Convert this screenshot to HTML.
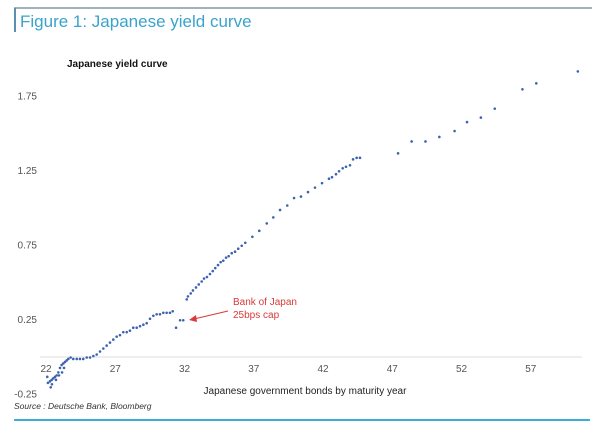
<!DOCTYPE html>
<html><head><meta charset="utf-8"><style>
body{margin:0;background:#fff;width:600px;height:430px;overflow:hidden;font-family:"Liberation Sans",sans-serif}
</style></head><body>
<svg width="600" height="430" xmlns="http://www.w3.org/2000/svg">
<line x1="14" y1="8" x2="592" y2="8" stroke="#9fb2bd" stroke-width="2"/>
<line x1="15" y1="8" x2="15" y2="32" stroke="#5a8fb0" stroke-width="2"/>
<text x="20" y="27" font-size="17" fill="#3aa3cc">Figure 1: Japanese yield curve</text>
<text x="67" y="67" font-size="10" font-weight="bold" fill="#111">Japanese yield curve</text>
<line x1="40" y1="357" x2="582" y2="357" stroke="#ddd" stroke-width="1"/>
<g id="yt" font-size="10" fill="#555"></g>
<g id="xt" font-size="10" fill="#555"></g>
<g id="pts" fill="#3d63b0"></g>
<text x="305" y="394" font-size="10" fill="#222" text-anchor="middle">Japanese government bonds by maturity year</text>
<text x="14" y="409" font-size="8.5" font-style="italic" fill="#333">Source : Deutsche Bank, Bloomberg</text>
<line x1="14" y1="420" x2="590" y2="420" stroke="#3aaed8" stroke-width="2"/>
<text x="233" y="305" font-size="10" fill="#d93a3a">Bank of Japan</text>
<text x="233" y="318" font-size="10" fill="#d93a3a">25bps cap</text>
<line x1="228" y1="311" x2="194" y2="319" stroke="#d93a3a" stroke-width="1"/>
<polygon points="189,320 196,315 197,322" fill="#d93a3a"/>
</svg>
<script>
const xTicks=[22,27,32,37,42,47,52,57];
const yTicks=[1.75,1.25,0.75,0.25,-0.25];
const yTickLabels=["1.75","1.25","0.75","0.25","-0.25"];
const years=[22.09,22.29,22.34,22.41,22.53,22.65,22.77,22.89,23.01,23.13,23.25,23.37,23.49,23.61,23.78,23.97,24.22,24.45,24.69,24.94,25.18,25.42,25.66,25.90,26.14,26.38,26.62,26.86,27.10,27.34,27.58,27.83,28.06,28.30,28.55,28.79,29.03,29.27,29.51,29.75,29.99,30.23,30.47,30.71,30.95,31.15,
22.14,22.43,22.72,22.94,23.16,23.30,
31.39,31.68,31.91,
32.16,32.25,32.45,32.61,32.83,33.03,33.24,33.41,33.62,33.84,34.04,34.22,34.42,34.61,34.80,35.00,35.19,35.41,35.65,35.88,36.13,36.39,36.90,37.40,37.94,38.41,38.90,39.42,39.91,40.41,40.92,41.42,41.93,42.43,42.65,42.94,43.16,43.42,43.66,43.95,44.17,44.43,44.67,
47.42,48.4,49.4,50.4,51.5,52.4,53.4,54.4,56.4,57.4,60.4];
const yields=[-0.14,-0.17,-0.21,-0.16,-0.15,-0.14,-0.13,-0.11,-0.08,-0.06,-0.05,-0.04,-0.03,-0.02,-0.01,-0.02,-0.02,-0.02,-0.02,-0.01,-0.01,0.00,0.01,0.03,0.05,0.07,0.09,0.11,0.13,0.14,0.16,0.16,0.17,0.19,0.19,0.20,0.21,0.22,0.25,0.27,0.28,0.28,0.29,0.29,0.29,0.30,
-0.18,-0.19,-0.16,-0.13,-0.11,-0.08,
0.19,0.24,0.24,
0.38,0.40,0.42,0.44,0.46,0.48,0.50,0.52,0.53,0.55,0.57,0.59,0.61,0.63,0.64,0.66,0.67,0.69,0.70,0.72,0.74,0.76,0.80,0.84,0.89,0.93,0.98,1.01,1.06,1.07,1.10,1.13,1.16,1.19,1.20,1.22,1.24,1.26,1.27,1.28,1.32,1.33,1.33,
1.36,1.44,1.44,1.47,1.51,1.57,1.60,1.66,1.79,1.83,1.91];
const NS="http://www.w3.org/2000/svg";
function xs(v){return 46+(v-22)*13.85;}
function ys(v){return 356-v*149;}
const yt=document.getElementById('yt');
yTicks.forEach((v,i)=>{const t=document.createElementNS(NS,'text');
t.setAttribute('x',37);t.setAttribute('y',ys(v)+4);t.setAttribute('text-anchor','end');t.textContent=yTickLabels[i];


yt.appendChild(t);});
const xt=document.getElementById('xt');
xTicks.forEach(v=>{const t=document.createElementNS(NS,'text');
t.setAttribute('x',xs(v));t.setAttribute('y',372);t.setAttribute('text-anchor','middle');t.textContent=v;


xt.appendChild(t);});
const g=document.getElementById('pts');
years.forEach((yr,i)=>{const c=document.createElementNS(NS,'circle');
c.setAttribute('cx',xs(yr));c.setAttribute('cy',ys(yields[i]));c.setAttribute('r',1.3);


g.appendChild(c);});
</script>
</body></html>
